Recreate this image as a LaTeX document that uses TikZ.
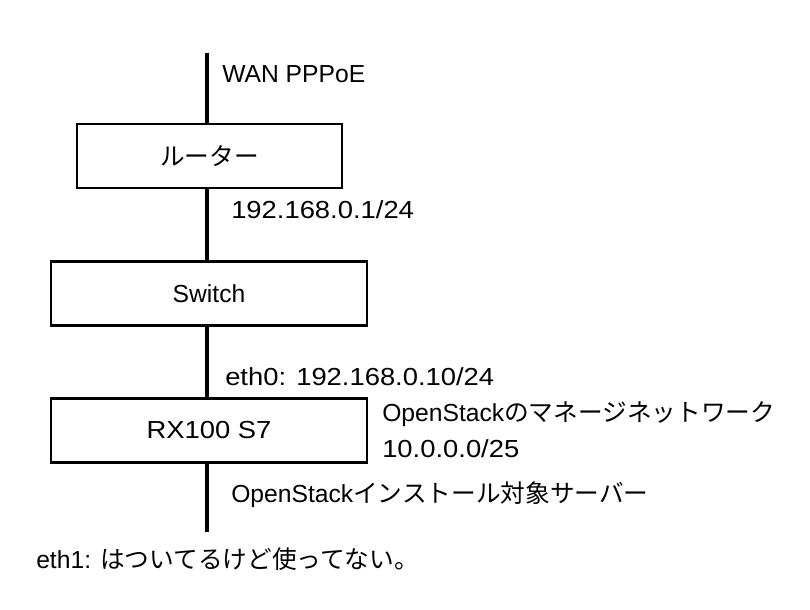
\documentclass[tikz,border=0pt]{standalone}
\usepackage{fontspec}
\setmainfont{Liberation Sans}
\newfontfamily\jp{Noto Sans CJK JP}
\newfontfamily\wide[FakeStretch=1.11]{Liberation Sans}
\usetikzlibrary{positioning}

\begin{document}
\begin{tikzpicture}[x=0.75pt,y=-0.75pt,
            font=\fontsize{18.5pt}{22pt}\selectfont,
            box/.style = {draw,
                        line width=2pt,
                        minimum height=48pt,
                        inner sep=0pt},
            note/.style = {anchor=base west,
                        inner sep=0pt},
            cable/.style = {line width=2.6pt}]
            \useasboundingbox (0,0) rectangle (810,610);
            % Boxes
            \node[box,minimum width=198.75pt] (router) at (209.5,156) {\jp ルーター};
            \node[box,minimum width=237pt] (switch) at (209,293.5) {Switch};
            \node[box,minimum width=237pt] (server) at (209,430.5) {\wide RX100 S7};
            % Line ends
            \coordinate (top) at (207,53);
            \coordinate (bottom) at (207,532);
            % Cable
            \draw[cable] (top) -- (top |- router.north);
            \draw[cable] (top |- router.south) -- (top |- switch.north);
            \draw[cable] (top |- switch.south) -- (top |- server.north);
            \draw[cable] (top |- server.south) -- (bottom);
            % Labels
            \node[note] (wan) at (222,83) {WAN PPPoE};
            \node[note] (lan) at (231,218) {\wide 192.168.0.1/24};
            \node[note] (eth0) at (225,385) {\wide eth0: 192.168.0.10/24};
            \node[note] (mgmt) at (382,421) {OpenStack{\jp のマネージネットワーク}};
            \node[note] (subnet) at (382,457) {\wide 10.0.0.0/25};
            \node[note] (role) at (231,502) {OpenStack{\jp インストール対象サーバー}};
            \node[note] (eth1) at (36,568) {eth1: {\jp はついてるけど使ってない。}};
        \end{tikzpicture}
\end{document}
